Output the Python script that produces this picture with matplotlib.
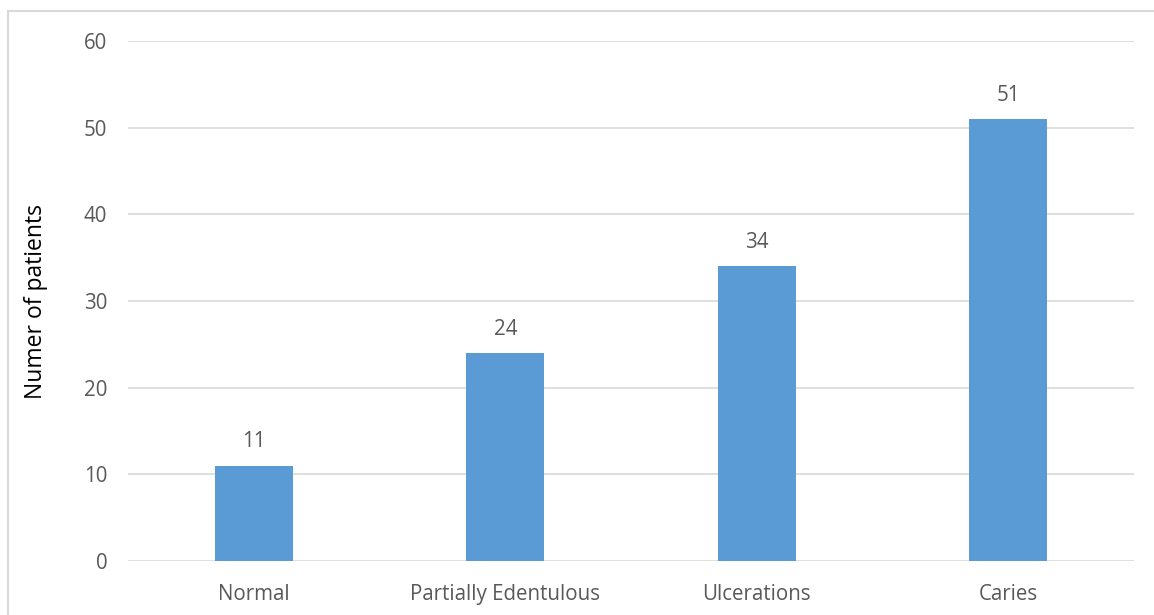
import matplotlib.pyplot as plt
from matplotlib.patches import Rectangle

categories = ["Normal", "Partially Edentulous", "Ulcerations", "Caries"]
patients = [11, 24, 34, 51]
y_ticks = [0, 10, 20, 30, 40, 50, 60]

plt.rcParams['font.family'] = ['Open Sans', 'DejaVu Sans']

text_color = "#595959"
grid_color = "#D9D9D9"
bar_color = "#5B9BD5"

fig = plt.figure(figsize=(11.54, 6.15), dpi=100)
ax = fig.add_axes([0.1109, 0.0878, 0.8718, 0.8455])

x = range(len(categories))
bars = ax.bar(x, patients, width=0.31, color=bar_color, zorder=3)

for rect, val in zip(bars, patients):
    ax.annotate(str(val), (rect.get_x() + rect.get_width() / 2, val),
                xytext=(0, 9.5), textcoords="offset points",
                ha="center", va="bottom", fontsize=14.8, color=text_color)

ax.set_xlim(-0.5, len(categories) - 0.5)
ax.set_ylim(0, 60)
ax.set_yticks(y_ticks)
ax.set_xticks(list(x))
ax.set_xticklabels(categories)
ax.tick_params(axis="both", length=0, labelsize=14.8, labelcolor=text_color)
ax.tick_params(axis="y", pad=15)
ax.tick_params(axis="x", pad=16.5)
ax.yaxis.grid(True, color=grid_color, linewidth=1.2, zorder=0)
for s in ax.spines.values():
    s.set_visible(False)
ax.set_ylabel("Numer of patients", fontsize=16.5, color="#000000", labelpad=26)

# chart area frame (left and top edges visible)
fig.patches.append(Rectangle((8 / 1154, -0.1), 1.2, (615 - 11) / 615 + 0.1,
                             transform=fig.transFigure, fill=False,
                             edgecolor="#D9D9D9", linewidth=1.5))

fig.savefig("out.png", dpi=100)
